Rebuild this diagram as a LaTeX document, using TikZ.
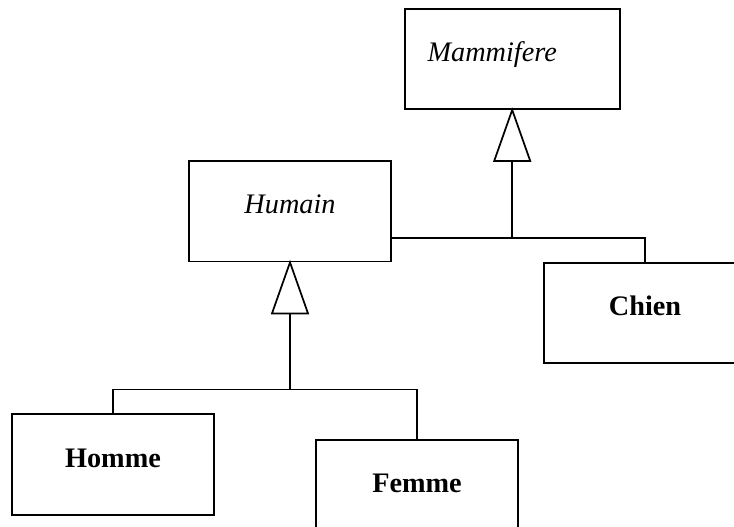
\documentclass[tikz,border=0pt]{standalone}
\usepackage{fontspec}
\setmainfont{Liberation Serif}
\usepackage{tikz}

\begin{document}
\begin{tikzpicture}
  [x=0.75pt,y=-0.75pt,line width=1.3pt,
   every node/.style={draw,rectangle,inner sep=0pt,minimum width=151.5pt,minimum height=75.5pt,
     text height=10pt,text depth=6pt,font=\fontsize{21.2}{25}\selectfont},
   abstr/.style={font=\fontsize{21.2}{25}\selectfont\itshape},
   concr/.style={font=\fontsize{21.2}{25}\selectfont\bfseries}]
  \useasboundingbox (0,0) rectangle (734,527);
  \clip (0,0) rectangle (734,527);

  \node[abstr,minimum width=161.3pt,minimum height=74.8pt] (mam) at (512.2,59.2) {Mammifere\kern30pt};
  \node[abstr] (hum) at (290,211.2) {Humain};
  \node[concr] (chien) at (645,313) {Chien};
  \node[concr] (homme) at (113,464.5) {Homme};
  \node[concr] (femme) at (417,490) {Femme};

  \foreach \n in {mam,hum}
    \draw (\n.south) -- ++(-18,51) -- ++(36,0) -- cycle;

  \draw (mam.south) ++(0,51) coordinate (mambase) -- ++(0,77) coordinate (j1);
  \draw (hum.east |- j1) -- (j1 -| chien.north) -- (chien.north);

  \draw (hum.south) ++(0,51) coordinate (humbase) -- ++(0,76) coordinate (j2);
  \draw (homme.north) |- (j2) -| (femme.north);

\end{tikzpicture}
\end{document}
